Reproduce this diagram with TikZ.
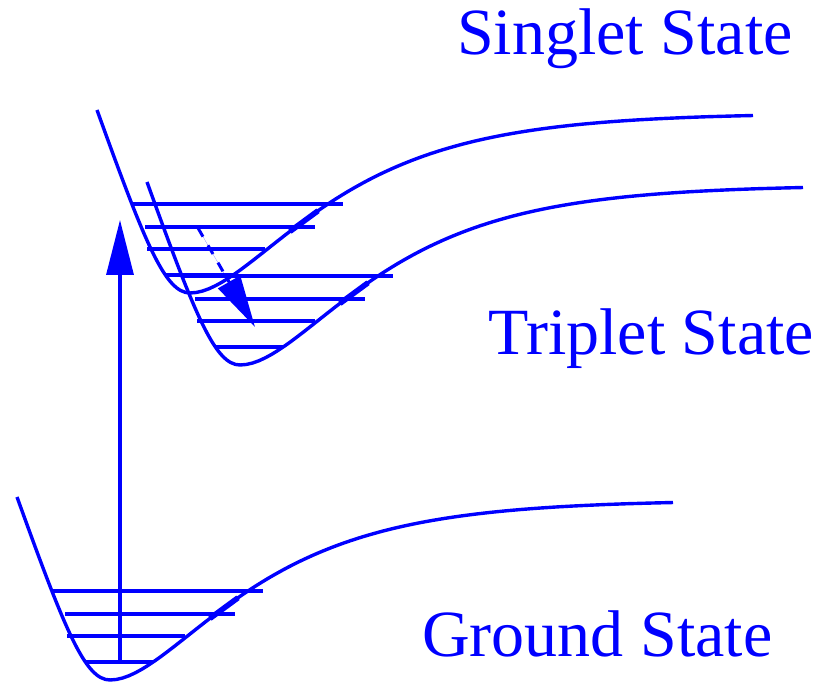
\documentclass[tikz,border=0pt]{standalone}
\usepackage{fontspec}
\setmainfont{Liberation Serif}
\usetikzlibrary{arrows.meta}
\definecolor{stateblue}{RGB}{0, 0, 255}
\tikzset{
  % potential curve of one electronic state (origin = bottom of the well)
  pes/.style={draw=stateblue, line width=3.4pt, line join=round},
  % vibrational levels inside a well
  vib/.style={draw=stateblue, line width=3.3pt},
  vib tick/.style={draw=stateblue, line width=5.5pt},
  %
  % transitions
  absorb/.style={
    -{Triangle[length=55pt, width=27pt]}, draw=stateblue, fill=stateblue,
    line width=3.3pt
  },
  isc/.style={
    -{Triangle[length=52pt, width=25pt]}, draw=stateblue, fill=stateblue,
    line width=3pt, dash pattern=on 10pt off 10pt
  },
  % state labels
  statelabel/.style={
    anchor=base west, inner sep=0pt, text=stateblue,
    font=\fontsize{66}{70}\selectfont
  },
  %
  % one Morse-like well with four vibrational levels
  pics/well/.style={code={
    \draw[pes] (-93,183) .. controls (-45,50) and (-25,0) .. (0,0)
      -- plot[domain=0:563, samples=90] (\x, {180*(1-exp(-0.0088*\x))^2});
    \foreach \lx/\rx/\h in {-59/153/89, -45/125/66, -43/75/44, -25/43/18}
      \draw[vib] (\lx,\h) -- (\rx,\h);
    \draw[vib tick] (100,61.6) -- (128,82.2);
  }},
}

\begin{document}
\begin{tikzpicture}[x=1pt, y=1pt]
  \useasboundingbox (0,0) rectangle (823,682);

  %% ── Wells ─────────────────────────────────────────────────────────────────
  \pic (ground)  at (110,   2) {well};
  \pic (singlet) at (190, 389) {well};
  \pic (triplet) at (240, 317) {well};

  %% ── Labels ────────────────────────────────────────────────────────────────
  \node[statelabel] (lS) at (457, 627) {Singlet State};
  \node[statelabel] (lT) at (488, 327) {Triplet State};
  \node[statelabel] (lG) at (422,  25) {Ground State};

  %% ── Transitions ───────────────────────────────────────────────────────────
  \coordinate (g0)   at (120,  19);
  \coordinate (s1)   at (120, 462);
  \coordinate (s2)   at (198, 454);
  \coordinate (t1)   at (255, 355);
  \draw[absorb] (g0) -- (s1);
  \draw[isc]    (s2) -- (t1);

\end{tikzpicture}
\end{document}
